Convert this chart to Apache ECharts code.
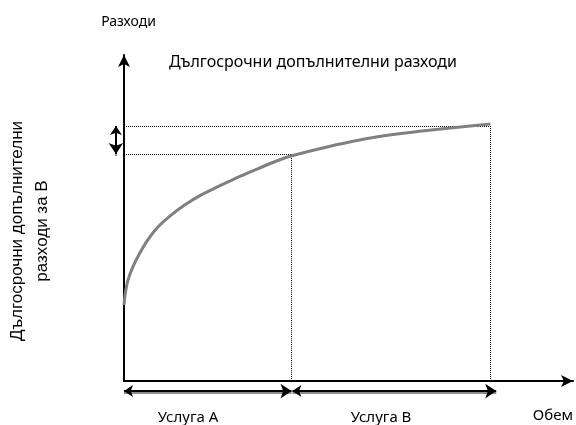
<!DOCTYPE html>
<html>
<head>
<meta charset="utf-8">
<script src="https://cdn.jsdelivr.net/npm/echarts@6/dist/echarts.min.js"></script>
<style>html,body{margin:0;padding:0;background:#fff;}#c{width:576px;height:425px;}</style>
</head>
<body>
<div id="c"></div>
<script>
// Curve (long-run incremental cost)
var curveX = [0, 0.3, 0.9, 2.0, 3.5, 5.3, 7.6, 10.5, 13.5, 17.2, 20.9, 24.6, 28.3, 32.7, 37.2, 43.1, 50.5, 57.9, 65.3, 72.7, 81.6];
var curveY = [23.3, 26.9, 31.0, 35.1, 39.2, 43.3, 47.3, 50.9, 54.0, 57.1, 59.6, 62.0, 64.2, 66.8, 69.0, 71.1, 73.4, 75.2, 76.5, 77.6, 78.8];
// Key positions on the volume axis
var volumeA = 37.3;
var volumeB = 81.6;
var costA = 69.6;
var costB = 78.2;
// Bracket arrows
var bracketY = -3.1;
var bracketX = -1.8;
var arrowSpans = [[0, 37.3], [37.5, 82.9]];
// Texts
var titleText = 'Дългосрочни допълнителни разходи';
var yName = 'Разходи';
var xName = 'Обем';
var sideLabel = 'Дългосрочни допълнителни\nразходи за В';
var serviceLabels = ['Услуга А', 'Услуга В'];

var chart = echarts.init(document.getElementById('c'), null, {renderer: 'canvas'});

var dotted = [
  [[0, costB], [volumeB, costB]],
  [[0, costA], [volumeA, costA]],
  [[volumeA, costA], [volumeA, 0]],
  [[volumeB, costB], [volumeB, 0]]
];

var option = {
  animation: false,
  title: {
    text: titleText, left: 164, top: 49,
    textStyle: {fontFamily: 'Noto Sans', fontSize: 16, fontWeight: 'normal', color: '#000'}
  },
  grid: {left: 124, top: 55, width: 450, height: 326},
  xAxis: {
    type: 'value', min: 0, max: 100,
    name: xName, nameLocation: 'end', nameGap: 0,
    nameTextStyle: {fontFamily: 'Noto Sans', fontSize: 15, color: '#000', align: 'right', verticalAlign: 'top', padding: [27, 0, 0, 0]},
    axisLine: {lineStyle: {color: '#000', width: 2}, symbol: ['none', 'arrow'], symbolSize: [9, 12]},
    axisTick: {show: false}, axisLabel: {show: false}, splitLine: {show: false}
  },
  yAxis: {
    type: 'value', min: 0, max: 100,
    name: yName, nameLocation: 'end', nameGap: 26,
    nameTextStyle: {fontFamily: 'Noto Sans', fontSize: 14, color: '#000', padding: [0, 0, 0, 9]},
    axisLine: {lineStyle: {color: '#000', width: 2}, symbol: ['none', 'arrow'], symbolSize: [9, 12]},
    axisTick: {show: false}, axisLabel: {show: false}, splitLine: {show: false}
  },
  graphic: [
    {type: 'text', x: 30, y: 231, rotation: Math.PI / 2,
      style: {text: sideLabel, fontFamily: 'Liberation Sans', fontSize: 17, lineHeight: 25,
        fill: '#000', align: 'center', verticalAlign: 'middle'}},
    {type: 'text', x: 188, y: 418, style: {text: serviceLabels[0], fontFamily: 'Noto Sans', fontSize: 15, fill: '#000', align: 'center', verticalAlign: 'middle'}},
    {type: 'text', x: 381, y: 418, style: {text: serviceLabels[1], fontFamily: 'Noto Sans', fontSize: 15, fill: '#000', align: 'center', verticalAlign: 'middle'}}
  ],
  series: [
    {
      type: 'lines', coordinateSystem: 'cartesian2d', clip: false, silent: true,
      lineStyle: {color: '#000', width: 1, type: [1, 1], opacity: 1},
      data: dotted.map(function (c) { return {coords: c}; })
    },
    {
      type: 'line', data: curveX.map(function (x, i) { return [x, curveY[i]]; }),
      smooth: 0.3, showSymbol: false, silent: true,
      lineStyle: {color: '#808080', width: 3}
    },
    {
      type: 'lines', coordinateSystem: 'cartesian2d', clip: false, silent: true,
      symbol: ['arrow', 'arrow'], symbolSize: [9, 11],
      lineStyle: {color: '#000', width: 2, opacity: 1, shadowColor: 'rgba(0,0,0,0.45)', shadowOffsetY: 2, shadowBlur: 0},
      data: arrowSpans.map(function (s) { return {coords: [[s[0], bracketY], [s[1], bracketY]]}; })
        .concat([{coords: [[bracketX, costB], [bracketX, costA]]}])
    }
  ]
};
chart.setOption(option);
</script>
</body>
</html>
